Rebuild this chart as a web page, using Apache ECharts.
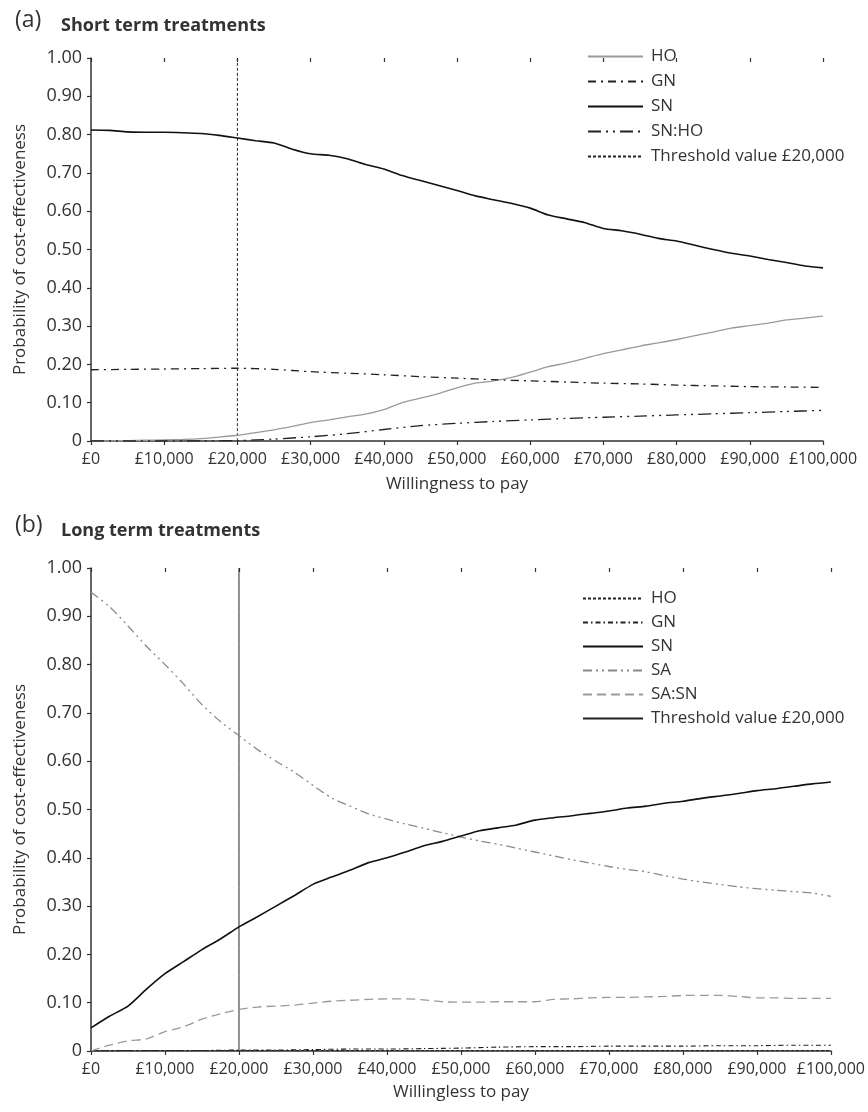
<!DOCTYPE html>
<html>
<head>
<meta charset="utf-8">
<title>Cost-effectiveness acceptability curves</title>
<script src="https://cdn.jsdelivr.net/npm/echarts@6/dist/echarts.min.js"></script>
<style>
  html, body { margin: 0; padding: 0; background: #fff; }
  #chart { width: 868px; height: 1112px; }
</style>
</head>
<body>
<div id="chart"></div>
<script>
// Willingness-to-pay grid (£), fine and coarse steps
const wtpFine = [0, 2500, 5000, 7500, 10000, 12500, 15000, 17500, 20000, 22500, 25000,
  27500, 30000, 32500, 35000, 37500, 40000, 42500, 45000, 47500, 50000,
  52500, 55000, 57500, 60000, 62500, 65000, 67500, 70000, 72500, 75000,
  77500, 80000, 82500, 85000, 87500, 90000, 92500, 95000, 97500, 100000];
const wtpCoarse = [0, 5000, 10000, 15000, 20000, 25000, 30000, 35000, 40000, 45000, 50000,
  55000, 60000, 65000, 70000, 75000, 80000, 85000, 90000, 95000, 100000];

// Tick labels
const xTickLabels = ['£0', '£10,000', '£20,000', '£30,000', '£40,000', '£50,000',
  '£60,000', '£70,000', '£80,000', '£90,000', '£100,000'];
const yTickLabels = ['0', '0.10', '0.20', '0.30', '0.40', '0.50', '0.60', '0.70', '0.80', '0.90', '1.00'];

// Threshold
const thresholdWtp = 20000;

// (a) Short term treatments
const shortHO = [0, 0, 0.001, 0.002, 0.003, 0.004, 0.006, 0.010, 0.015, 0.022, 0.029,
  0.038, 0.048, 0.055, 0.063, 0.070, 0.082, 0.100, 0.112, 0.124, 0.139,
  0.151, 0.157, 0.166, 0.180, 0.194, 0.204, 0.216, 0.228, 0.238, 0.248,
  0.256, 0.265, 0.275, 0.284, 0.295, 0.301, 0.308, 0.316, 0.321, 0.326];
const shortGN = [0.186, 0.187, 0.188, 0.189, 0.190, 0.187, 0.181, 0.177, 0.173, 0.168, 0.164,
  0.160, 0.157, 0.154, 0.151, 0.149, 0.146, 0.144, 0.142, 0.141, 0.140];
const shortSN = [0.812, 0.811, 0.807, 0.806, 0.806, 0.805, 0.803, 0.798, 0.791, 0.784, 0.778,
  0.762, 0.750, 0.746, 0.737, 0.722, 0.710, 0.693, 0.680, 0.667, 0.654,
  0.640, 0.630, 0.620, 0.608, 0.590, 0.580, 0.570, 0.555, 0.549, 0.540,
  0.529, 0.522, 0.511, 0.500, 0.490, 0.483, 0.474, 0.466, 0.457, 0.452];
const shortSNHO = [0, 0, 0, 0, 0.001, 0.005, 0.011, 0.019, 0.030, 0.040, 0.046,
  0.051, 0.055, 0.059, 0.062, 0.065, 0.068, 0.071, 0.074, 0.077, 0.080];

// (b) Long term treatments
const longHO = [0, 0.001, 0.001, 0.001, 0.001, 0.001, 0.001, 0.001, 0.001, 0.001, 0.001,
  0.001, 0.001, 0.001, 0.001, 0.001, 0.001, 0.001, 0.001, 0.001, 0.001];
const longGN = [0, 0.001, 0.001, 0.001, 0.002, 0.002, 0.003, 0.004, 0.004, 0.005, 0.006,
  0.008, 0.009, 0.009, 0.010, 0.010, 0.010, 0.011, 0.011, 0.012, 0.012];
const longSN = [0.048, 0.072, 0.093, 0.128, 0.160, 0.185, 0.210, 0.232, 0.257, 0.278, 0.300,
  0.322, 0.345, 0.360, 0.374, 0.390, 0.400, 0.412, 0.425, 0.434, 0.445,
  0.456, 0.462, 0.468, 0.478, 0.483, 0.487, 0.492, 0.497, 0.503, 0.507,
  0.513, 0.517, 0.523, 0.528, 0.533, 0.539, 0.543, 0.548, 0.553, 0.557];
const longSA = [0.950, 0.920, 0.880, 0.838, 0.800, 0.760, 0.717, 0.682, 0.653, 0.624, 0.600,
  0.577, 0.550, 0.524, 0.507, 0.491, 0.480, 0.470, 0.461, 0.452, 0.443,
  0.435, 0.428, 0.420, 0.412, 0.404, 0.396, 0.389, 0.382, 0.376, 0.371,
  0.363, 0.356, 0.350, 0.345, 0.340, 0.336, 0.333, 0.330, 0.327, 0.320];
const longSASN = [0, 0.012, 0.021, 0.025, 0.040, 0.050, 0.066, 0.077, 0.086, 0.091, 0.093,
  0.095, 0.099, 0.103, 0.105, 0.107, 0.108, 0.108, 0.106, 0.102, 0.101,
  0.101, 0.102, 0.102, 0.102, 0.107, 0.108, 0.110, 0.111, 0.111, 0.112,
  0.113, 0.115, 0.115, 0.115, 0.113, 0.110, 0.110, 0.109, 0.109, 0.109];

const FONT = '"Open Sans", "Noto Sans", sans-serif';
const INK = '#333';

function pairs(xs, ys) { return xs.map((x, i) => [x, ys[i]]); }

function xAxes(grid, nameGap, name) {
  return [{
    type: 'value', gridIndex: grid, min: 0, max: 100000, interval: 10000,
    name: name, nameLocation: 'middle', nameGap: nameGap,
    nameTextStyle: { fontFamily: FONT, fontSize: 17, color: INK },
    axisLine: { lineStyle: { color: INK, width: 1.5 } },
    axisTick: { length: 4, lineStyle: { color: INK, width: 1.2 } },
    axisLabel: { fontFamily: FONT, fontSize: 16, color: INK, margin: 10,
      formatter: v => xTickLabels[Math.round(v / 10000)] },
    splitLine: { show: false }
  }, {
    // inner half of the crossing x ticks
    type: 'value', gridIndex: grid, min: 0, max: 100000, interval: 10000,
    axisLine: { show: false },
    axisTick: { inside: true, length: 4, lineStyle: { color: INK, width: 1.2 } },
    axisLabel: { show: false }, splitLine: { show: false }
  }];
}

function yAxis(grid) {
  return {
    type: 'value', gridIndex: grid, min: 0, max: 1, interval: 0.1,
    name: 'Probability of cost-effectiveness', nameLocation: 'middle', nameGap: 62,
    nameTextStyle: { fontFamily: FONT, fontSize: 17, color: INK },
    axisLine: { show: true, lineStyle: { color: INK, width: 1.5 } },
    axisTick: { show: true, length: 4, lineStyle: { color: INK, width: 1.2 } },
    axisLabel: { fontFamily: FONT, fontSize: 18, color: INK, margin: 9,
      formatter: v => yTickLabels[Math.round(v * 10)] },
    splitLine: { show: false }
  };
}

function line(id, xi, yi, data, color, width, dash, z) {
  return {
    type: 'line', name: id, xAxisIndex: xi, yAxisIndex: yi, data: data,
    symbol: 'none', smooth: 0.25, z: z || 2, animation: false,
    lineStyle: { color: color, width: width, type: dash || 'solid' },
    itemStyle: { color: color }
  };
}

function thresholdLine(id, xi, yi, dash) {
  return line(id, xi, yi, [[thresholdWtp, 0], [thresholdWtp, 1]], '#222', 1, dash, 1);
}

function legend(names, left, top, iconWidth, gap) {
  return {
    orient: 'vertical', left: left, top: top, data: names,
    itemWidth: iconWidth, itemHeight: 14, itemGap: gap, selectedMode: false,
    itemStyle: { opacity: 0 },
    formatter: n => n.slice(2),
    textStyle: { fontFamily: FONT, fontSize: 17, color: INK, lineHeight: 16, padding: [0, 0, 0, 3] }
  };
}

const chart = echarts.init(document.getElementById('chart'), null, { renderer: 'canvas' });

chart.setOption({
  backgroundColor: '#fff',
  animation: false,
  title: [
    { text: '(a)', left: 10, top: 4, textStyle: { fontFamily: FONT, fontSize: 23, fontWeight: 'normal', color: INK } },
    { text: 'Short term treatments', left: 56, top: 12, textStyle: { fontFamily: FONT, fontSize: 18, fontWeight: 'bold', color: INK } },
    { text: '(b)', left: 10, top: 509, textStyle: { fontFamily: FONT, fontSize: 23, fontWeight: 'normal', color: INK } },
    { text: 'Long term treatments', left: 56, top: 517, textStyle: { fontFamily: FONT, fontSize: 18, fontWeight: 'bold', color: INK } }
  ],
  grid: [
    { left: 91, top: 58, width: 732, height: 383 },
    { left: 91, top: 568, width: 740, height: 483 }
  ],
  xAxis: [
    ...xAxes(0, 35, 'Willingness to pay'),
    ...xAxes(1, 33, 'Willingless to pay')
  ],
  yAxis: [yAxis(0), yAxis(1)],
  legend: [
    legend(['a:HO', 'a:GN', 'a:SN', 'a:SN:HO', 'a:Threshold value £20,000'], 582, 43, 55, 8),
    legend(['b:HO', 'b:GN', 'b:SN', 'b:SA', 'b:SA:SN', 'b:Threshold value £20,000'], 577, 585, 60, 7)
  ],
  series: [
    line('a:HO', 0, 0, pairs(wtpFine, shortHO), '#9a9a9a', 1.3),
    line('a:GN', 0, 0, pairs(wtpCoarse, shortGN), '#222', 1.3, [8, 5, 2, 5]),
    line('a:SN', 0, 0, pairs(wtpFine, shortSN), '#111', 1.6, 'solid', 3),
    line('a:SN:HO', 0, 0, pairs(wtpCoarse, shortSNHO), '#222', 1.3, [13, 5, 2, 5, 2, 5]),
    thresholdLine('a:Threshold value £20,000', 0, 0, [3, 2]),

    line('b:HO', 2, 1, pairs(wtpCoarse, longHO), '#222', 1.1, [3, 2]),
    line('b:GN', 2, 1, pairs(wtpCoarse, longGN), '#222', 1.1, [5, 3, 1.5, 3]),
    line('b:SN', 2, 1, pairs(wtpFine, longSN), '#111', 1.6, 'solid', 3),
    line('b:SA', 2, 1, pairs(wtpFine, longSA), '#8a8a8a', 1.3, [9, 4, 2, 4, 2, 4]),
    line('b:SA:SN', 2, 1, pairs(wtpFine, longSASN), '#9a9a9a', 1.3, [9, 5]),
    thresholdLine('b:Threshold value £20,000', 2, 1, 'solid')
  ]
});
</script>
</body>
</html>
